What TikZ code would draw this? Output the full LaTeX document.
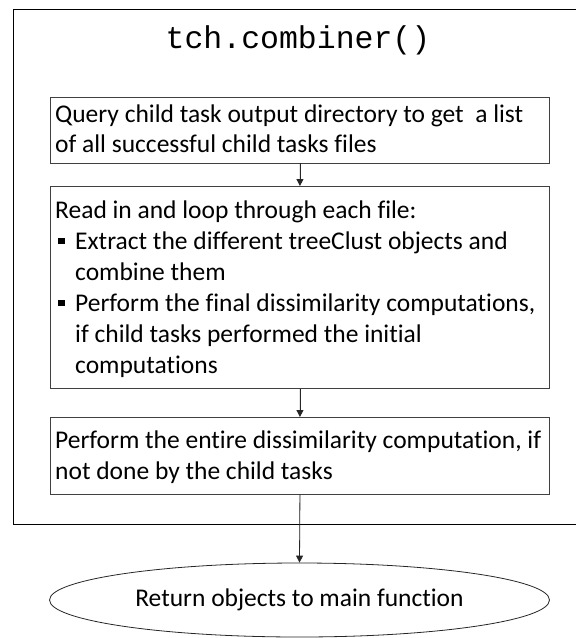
\documentclass[tikz,border=0pt]{standalone}
\usepackage{fontspec}
\setmainfont{Carlito}[Ligatures=NoCommon]
\newfontfamily\codefont{Liberation Mono}
\usetikzlibrary{shapes.geometric,arrows.meta}
\begin{document}
\begin{tikzpicture}[x=1pt,y=-1pt,
  box/.style={draw=black!75, line width=0.9pt, minimum width=499pt, inner sep=0pt, anchor=north west},
  txt/.style={anchor=base west, inner sep=0pt, font=\fontsize{25.5}{31}\selectfont},
  arr/.style={-{Triangle[length=7pt,width=7pt]}, line width=0.8pt, draw=black!85, fill=black!85}]
\useasboundingbox (0,0) rectangle (576,638);
\clip (0,0) rectangle (576,638);
\newcommand{\blt}{\makebox[20pt][l]{\hspace{3pt}\raisebox{5pt}{\rule{6.5pt}{6.5pt}}}}
% outer frame
\node (outer) [draw=black, line width=0.9pt, anchor=north west, minimum width=577.5pt, minimum height=515pt, inner sep=0pt] at (12.5,9) {};
\node (title) [anchor=base, inner sep=0pt, font=\codefont\fontsize{31.5}{32}\selectfont] at (298,48) {tch.combiner()};
% boxes
\node (b1) [box, minimum height=65.5pt] at (50,97) {};
\node (b2) [box, minimum height=202pt] at (50,186) {};
\node (b3) [box, minimum height=77pt] at (50,417) {};
\node (ret) [ellipse, draw=black!85, line width=0.8pt, minimum width=500pt, minimum height=74pt, inner sep=0pt, font=\fontsize{25.5}{31}\selectfont] at (299.5,600) {Return objects to main function};
% texts
\node (t11) [txt] at (55,122) {Query child task output directory to get\ \ a list};
\node (t12) [txt] at (55,152) {of all successful child tasks files};
\node (t21) [txt] at (55,218) {Read in and loop through each file:};
\node (t22) [txt] at (55,249) {\blt Extract the different treeClust objects and};
\node (t23) [txt] at (75,280) {combine them};
\node (t24) [txt] at (55,311) {\blt Perform the final dissimilarity computations,};
\node (t25) [txt] at (75,342) {if child tasks performed the initial};
\node (t26) [txt] at (75,373) {computations};
\node (t31) [txt] at (55,448) {Perform the entire dissimilarity computation, if};
\node (t32) [txt] at (55,479) {not done by the child tasks};
% connectors
\draw[arr] (b1.south) -- (b2.north);
\draw[arr] (b2.south) -- (b3.north);
\draw[arr] (b3.south) -- (ret.north);
\end{tikzpicture}
\end{document}
